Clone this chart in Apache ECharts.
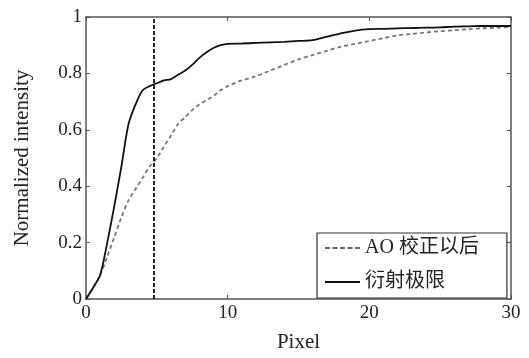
<!DOCTYPE html>
<html>
<head>
<meta charset="utf-8">
<script src="https://cdn.jsdelivr.net/npm/echarts@6/dist/echarts.min.js"></script>
<style>html,body{margin:0;padding:0;background:#fff}#c{width:529px;height:358px}</style>
</head>
<body>
<div id="c"></div>
<script>
const pixelX = [0,0.5,1,1.5,2,2.5,3,3.5,4,4.5,5,5.5,6,6.5,7,7.5,8,8.5,9,9.5,10,11,12,13,14,15,16,17,18,19,20,21,22,23,24,25,26,27,28,29,30];
const aoCorrected = [0,0.04,0.085,0.15,0.22,0.29,0.35,0.39,0.43,0.47,0.5,0.54,0.58,0.62,0.645,0.67,0.69,0.705,0.72,0.74,0.755,0.775,0.79,0.81,0.83,0.85,0.865,0.88,0.895,0.905,0.915,0.925,0.935,0.94,0.945,0.95,0.953,0.957,0.96,0.962,0.965];
const diffLimit = [0,0.04,0.085,0.2,0.33,0.47,0.62,0.69,0.74,0.755,0.765,0.775,0.78,0.795,0.81,0.83,0.855,0.875,0.89,0.9,0.905,0.906,0.908,0.91,0.912,0.915,0.918,0.93,0.942,0.952,0.957,0.958,0.96,0.961,0.962,0.963,0.966,0.967,0.968,0.968,0.968];
const markerX = 4.8;
const yTicks = [0,0.2,0.4,0.6,0.8,1];
const xTicks = [0,10,20,30];
const names = ['AO 校正以后','衍射极限'];

const font = 'Liberation Serif, Noto Sans CJK SC, serif';
const axisColor = '#555';
const chart = echarts.init(document.getElementById('c'));
const zip = (xs, ys) => xs.map((x, i) => [x, ys[i]]);
const baseAxis = {
  min: 0, axisLine: {show: true, onZero: false, lineStyle: {color: axisColor, width: 1.5}},
  axisTick: {show: true, inside: true, length: 4, lineStyle: {color: axisColor}},
  splitLine: {show: false}
};
const dashIcon = 'path://M0,0h5v2h-5zM7.5,0h5v2h-5zM15,0h5v2h-5zM22.5,0h5v2h-5zM30,0h5v2h-5z';
const solidIcon = 'path://M0,0h35v2h-35z';
chart.setOption({
  animation: false,
  grid: {left: 86, right: 18, top: 17, bottom: 55, containLabel: false},
  xAxis: [
    Object.assign({}, baseAxis, {type: 'value', max: 30, interval: 10, position: 'bottom',
      name: 'Pixel', nameLocation: 'middle', nameGap: 33,
      nameTextStyle: {fontFamily: font, fontSize: 21, color: '#222'},
      axisLabel: {fontFamily: font, fontSize: 19, color: '#222', margin: 5,
        formatter: v => xTicks.includes(v) ? String(v) : ''}}),
    Object.assign({}, baseAxis, {type: 'value', max: 30, interval: 10, position: 'top', axisLabel: {show: false}})
  ],
  yAxis: [
    Object.assign({}, baseAxis, {type: 'value', max: 1, interval: 0.2, position: 'left',
      name: 'Normalized intensity', nameLocation: 'middle', nameGap: 53, nameRotate: 90,
      nameTextStyle: {fontFamily: font, fontSize: 21, color: '#222'},
      axisLabel: {fontFamily: font, fontSize: 19, color: '#222', margin: 4,
        formatter: v => { const t = yTicks.find(k => Math.abs(k - v) < 1e-9); return t === undefined ? '' : String(t); }}}),
    Object.assign({}, baseAxis, {type: 'value', max: 1, interval: 0.2, position: 'right', axisLabel: {show: false}})
  ],
  legend: {
    data: [{name: names[0], icon: dashIcon}, {name: names[1], icon: solidIcon}],
    orient: 'vertical', left: 317, top: 233,
    padding: [5, 28, 6, 8], itemGap: 14, itemWidth: 35, itemHeight: 2,
    borderColor: '#333', borderWidth: 1.2, backgroundColor: '#fff',
    textStyle: {fontFamily: font, fontSize: 20, color: '#222'}
  },
  series: [
    {name: names[0], type: 'line', data: zip(pixelX, aoCorrected), symbol: 'none', smooth: 0.3,
      lineStyle: {color: '#777', width: 1.8, type: [4, 3]}, itemStyle: {color: '#666'}},
    {name: names[1], type: 'line', data: zip(pixelX, diffLimit), symbol: 'none', smooth: 0.3,
      lineStyle: {color: '#111', width: 1.8}, itemStyle: {color: '#111'}},
    {type: 'line', data: [[markerX, 0], [markerX, 1]], symbol: 'none', silent: true,
      lineStyle: {color: '#111', width: 1.8, type: [4, 2]}}
  ]
});
</script>
</body>
</html>
